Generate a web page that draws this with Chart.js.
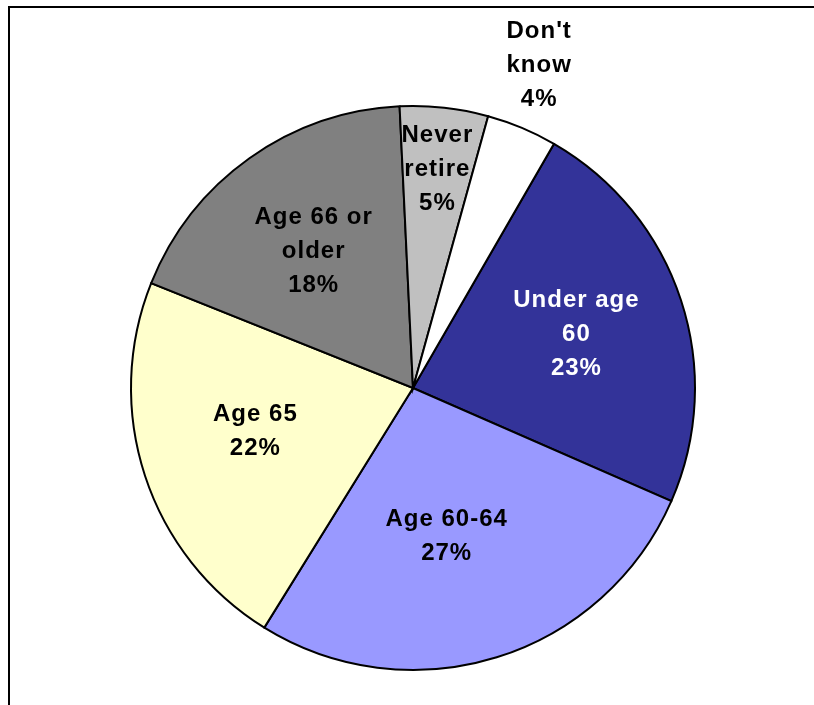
<!DOCTYPE html>
<html>
<head>
<meta charset="utf-8">
<script src="https://cdn.jsdelivr.net/npm/chart.js@4/dist/chart.umd.min.js"></script>
<style>
  html, body { margin: 0; padding: 0; background: #fff; }
  #wrap { position: relative; width: 814px; height: 705px; }
</style>
</head>
<body>
<div id="wrap"><canvas id="c" width="814" height="705"></canvas></div>
<script>
// Retirement age expectations (percent of respondents)
const categories = [
  ["Under age", "60"],
  ["Age 60-64"],
  ["Age 65"],
  ["Age 66 or", "older"],
  ["Never", "retire"],
  ["Don't", "know"]
];
const values = [23, 27, 22, 18, 5, 4];
const colors = ["#333399", "#9999FF", "#FFFFCC", "#808080", "#C0C0C0", "#FFFFFF"];
const textColors = ["#FFFFFF", "#000000", "#000000", "#000000", "#000000", "#000000"];
// label placement: distance from the centre (fraction of radius) and angular nudge (degrees)
const labelRadius = [0.61, 0.54, 0.58, 0.60, 0.78, 1.23];
const labelNudge = [0, 4.5, 2.7, -0.5, 0, -1.4];

// frame lines along the top and left edge
const framePlugin = {
  id: 'frame',
  beforeDraw(chart) {
    const ctx = chart.ctx;
    ctx.save();
    ctx.strokeStyle = '#000';
    ctx.lineWidth = 2;
    ctx.beginPath();
    ctx.moveTo(9, chart.height);
    ctx.lineTo(9, 7);
    ctx.lineTo(chart.width, 7);
    ctx.stroke();
    ctx.restore();
  }
};

// multi-line slice labels: category lines followed by the percentage
const sliceLabels = {
  id: 'sliceLabels',
  afterDatasetsDraw(chart) {
    const ctx = chart.ctx;
    const meta = chart.getDatasetMeta(0);
    ctx.save();
    ctx.font = 'bold 24px "Liberation Sans", Arial, sans-serif';
    ctx.letterSpacing = '1px';
    ctx.textAlign = 'center';
    ctx.textBaseline = 'middle';
    const lineH = 34;
    meta.data.forEach((arc, i) => {
      const p = arc.getProps(['x', 'y', 'startAngle', 'endAngle', 'outerRadius'], true);
      const mid = (p.startAngle + p.endAngle) / 2 + labelNudge[i] * Math.PI / 180;
      const r = p.outerRadius * labelRadius[i];
      const cx = p.x + Math.cos(mid) * r;
      const cy = p.y + Math.sin(mid) * r;
      const lines = categories[i].concat([values[i] + '%']);
      const top = cy - (lines.length - 1) * lineH / 2;
      ctx.fillStyle = textColors[i];
      lines.forEach((t, k) => ctx.fillText(t, cx, top + k * lineH));
    });
    ctx.restore();
  }
};

new Chart(document.getElementById('c'), {
  type: 'pie',
  data: {
    labels: categories.map(l => l.join(' ')),
    datasets: [{
      data: values,
      backgroundColor: colors,
      borderColor: '#000000',
      borderWidth: 2,
      borderJoinStyle: 'miter'
    }]
  },
  options: {
    responsive: false,
    animation: false,
    rotation: 30,
    layout: { padding: { left: 130, right: 118, top: 105, bottom: 34 } },
    plugins: {
      legend: { display: false },
      tooltip: { enabled: false }
    }
  },
  plugins: [framePlugin, sliceLabels]
});
</script>
</body>
</html>
